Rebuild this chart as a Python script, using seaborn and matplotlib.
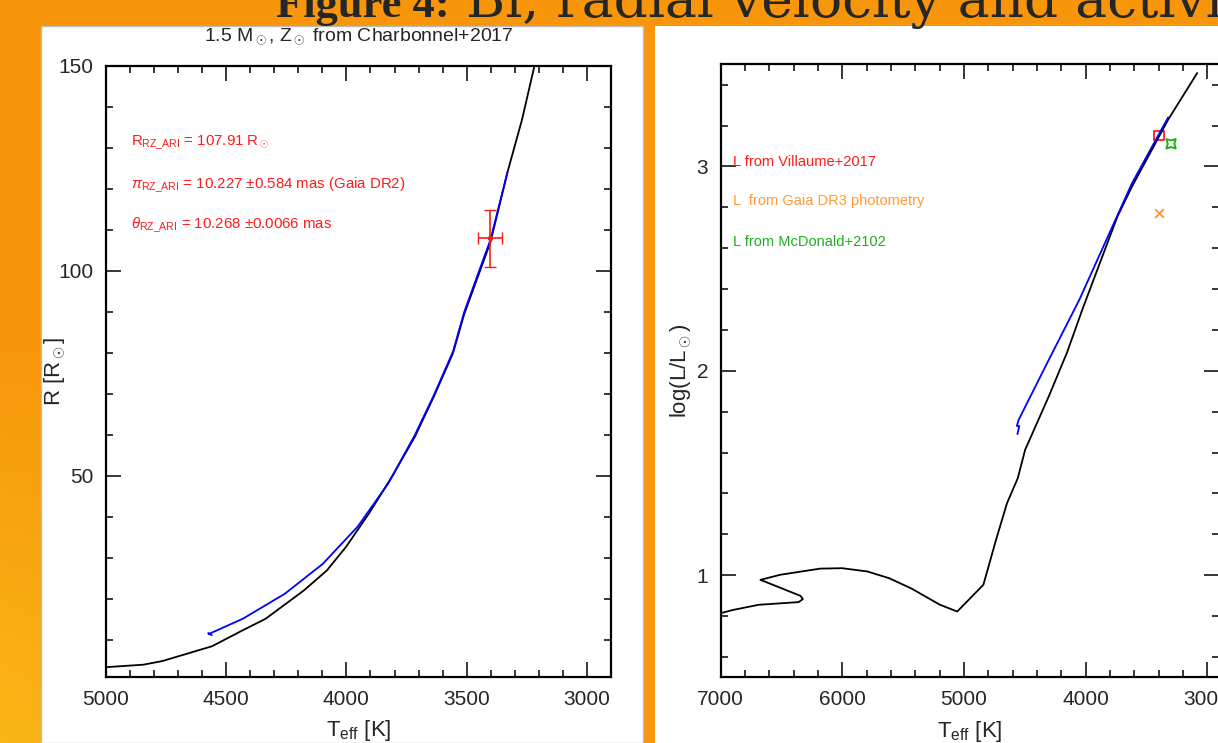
import seaborn as sns
import numpy as np
import pandas as pd
import matplotlib.pyplot as plt
from matplotlib.patches import Rectangle
from matplotlib.ticker import MultipleLocator

# left panel: R vs Teff (Charbonnel+2017 track)
teff_track_r = [5100, 5000, 4845, 4765, 4559, 4431, 4336, 4177, 4081, 4002, 3907, 3811,
                3716, 3637, 3557, 3510, 3401, 3330, 3270, 3218, 3200]
r_track = [3.2, 3.4, 4.0, 4.9, 8.5, 12.4, 15.2, 22.1, 27.0, 32.7, 40.8, 49.8,
           59.5, 69.3, 79.9, 89.5, 107.0, 124.1, 136.8, 150.0, 155.0]
teff_blue_r = [4560, 4575, 4572, 4431, 4256, 4098, 3954, 3827, 3716, 3637, 3557, 3510, 3401, 3330]
r_blue = [11.2, 11.7, 11.5, 15.2, 21.3, 28.6, 37.6, 48.1, 59.9, 69.6, 80.3, 90.0, 107.6, 124.1]
star_teff, star_teff_err = 3401, 50
star_r, star_r_err = 107.91, 7.0

# right panel: log L vs Teff
teff_track_l = [7100, 7000, 6896, 6687, 6359, 6324, 6345, 6673, 6509, 6181, 6002, 5794, 5615,
                5436, 5197, 5055, 4840, 4736, 4646, 4557, 4497, 4303, 4154, 4020, 3738, 3618,
                3321, 3082]
logl_track = [0.79, 0.814, 0.830, 0.855, 0.868, 0.883, 0.899, 0.977, 1.002, 1.032, 1.034, 1.018,
              0.985, 0.936, 0.855, 0.822, 0.953, 1.173, 1.352, 1.475, 1.613, 1.874, 2.087, 2.31,
              2.755, 2.902, 3.229, 3.457]
teff_blue_l = [4560, 4545, 4565, 4550, 4302, 4051, 3618, 3321]
logl_blue = [1.69, 1.73, 1.73, 1.76, 2.054, 2.348, 2.918, 3.24]

lum_labels = ["L from Villaume+2017", "L  from Gaia DR3 photometry", "L from McDonald+2102"]
lum_teff = [3395, 3395, 3297]
lum_logl = [3.150, 2.772, 3.111]
lum_colors = ["#ff1a1a", "#ff9a33", "#1fae1f"]

sns.set_style("ticks")
plt.rcParams['font.family'] = ['Liberation Sans', 'DejaVu Sans']
plt.rcParams['mathtext.fontset'] = 'custom'
plt.rcParams['mathtext.rm'] = 'Liberation Sans'
plt.rcParams['mathtext.it'] = 'Liberation Sans:italic'
plt.rcParams['mathtext.bf'] = 'Liberation Sans:bold'

fig = plt.figure(figsize=(12.18, 7.43), dpi=100)

# orange slide background with white panels
bg = fig.add_axes([0, 0, 1, 1], zorder=-10)
yy, xx = np.mgrid[0:1:200j, 0:1:200j]
w = np.clip((yy - 0.45) / 0.55, 0, 1) * np.clip(1 - xx * 2.0, 0, 1)
top = np.array([247, 150, 10]) / 255
bot = np.array([250, 182, 22]) / 255
grad = top[None, None, :] * (1 - w[..., None]) + bot[None, None, :] * w[..., None]
bg.imshow(grad, aspect='auto', extent=[0, 1, 0, 1], origin='upper')
bg.add_patch(Rectangle((41 / 1218, 0), 602 / 1218, 1 - 26 / 743, facecolor='white',
                       edgecolor='#bbbbbb', lw=1))
bg.add_patch(Rectangle((655 / 1218, 0), 563 / 1218, 1 - 26 / 743, facecolor='white',
                       edgecolor='none'))
bg.set_xlim(0, 1)
bg.set_ylim(0, 1)
bg.axis('off')

# slide heading, cut by the top edge
fig.text(450 / 1218, 1 - 17 / 743, "Figure 4:", family='Liberation Serif', weight='bold',
         fontsize=32, va='baseline', ha='right')
fig.text(466 / 1218, 1 - 17 / 743, "Bi, radial velocity and activity", family='DejaVu Serif',
         fontsize=38.5, va='baseline', ha='left')

ax1 = fig.add_axes([0.0870, 0.0888, 0.4146, 0.8228])
ax2 = fig.add_axes([0.5917, 0.0884, 0.4094, 0.8251])

sns.lineplot(x=teff_track_r, y=r_track, sort=False, estimator=None, color='black', lw=1.3, ax=ax1)
sns.lineplot(x=teff_blue_r, y=r_blue, sort=False, estimator=None, color='#0000ff', lw=1.3, ax=ax1)
ax1.errorbar(star_teff, star_r, xerr=star_teff_err, yerr=star_r_err, color='#ff1a1a',
             capsize=4, lw=1.2, marker='o', ms=3)
ax1.set_xlim(5000, 2900)
ax1.set_ylim(1, 150)
ax1.set_title(r'1.5 M$_\odot$, Z$_\odot$ from Charbonnel+2017', fontsize=14, pad=18)
ax1.set_xlabel(r'T$_{\rm eff}$ [K]', fontsize=16, labelpad=7)
ax1.set_ylabel(r'R [R$_\odot$]', fontsize=16, labelpad=-7)
ax1.xaxis.set_major_locator(MultipleLocator(500))
ax1.xaxis.set_minor_locator(MultipleLocator(100))
ax1.yaxis.set_major_locator(MultipleLocator(50))
ax1.yaxis.set_minor_locator(MultipleLocator(10))
notes = [r'R$_{\rm RZ\_ARI}$ = 107.91 R$_\odot$',
         r'$\pi_{\rm RZ\_ARI}$ = 10.227 $\pm$0.584 mas (Gaia DR2)',
         r'$\theta_{\rm RZ\_ARI}$ = 10.268 $\pm$0.0066 mas']
for txt, yv in zip(notes, [131.1, 120.9, 111.1]):
    ax1.text(4896, yv, txt, color='#ff1a1a', fontsize=10.8, va='center', ha='left')

sns.lineplot(x=teff_track_l, y=logl_track, sort=False, estimator=None, color='black', lw=1.3, ax=ax2)
sns.lineplot(x=teff_blue_l, y=logl_blue, sort=False, estimator=None, color='#0000ff', lw=1.3, ax=ax2)
sns.scatterplot(x=[lum_teff[0]], y=[lum_logl[0]], marker='s', s=45, facecolor='none',
                edgecolor=lum_colors[0], linewidth=1.3, ax=ax2)
sns.scatterplot(x=[lum_teff[1]], y=[lum_logl[1]], marker='x', s=40, color=lum_colors[1],
                linewidth=1.4, ax=ax2)
sns.scatterplot(x=[lum_teff[2]], y=[lum_logl[2]], marker=(4, 1, 45), s=90,
                facecolor='none', edgecolor=lum_colors[2], linewidth=1.4, ax=ax2)
for txt, yv, c in zip(lum_labels, [3.024, 2.829, 2.628], lum_colors):
    ax2.text(6896, yv, txt, color=c, fontsize=10.5, va='center', ha='left')
ax2.set_xlim(7000, 2900)
ax2.set_ylim(0.5, 3.5)
ax2.set_xlabel(r'T$_{\rm eff}$ [K]', fontsize=16, labelpad=7)
ax2.set_ylabel(r'log(L/L$_\odot$)', fontsize=16, labelpad=2)
ax2.xaxis.set_major_locator(MultipleLocator(1000))
ax2.xaxis.set_minor_locator(MultipleLocator(200))
ax2.yaxis.set_major_locator(MultipleLocator(1))
ax2.yaxis.set_minor_locator(MultipleLocator(0.2))

for ax in (ax1, ax2):
    ax.set_facecolor('white')
    for sp in ax.spines.values():
        sp.set_linewidth(1.6)
        sp.set_color('black')
    ax.tick_params(which='both', direction='in', top=True, right=True, width=1.1, color='black')
    ax.tick_params(which='major', length=11, labelsize=15, pad=9)
    ax.tick_params(which='minor', length=5)

fig.savefig("out.png", dpi=100)
